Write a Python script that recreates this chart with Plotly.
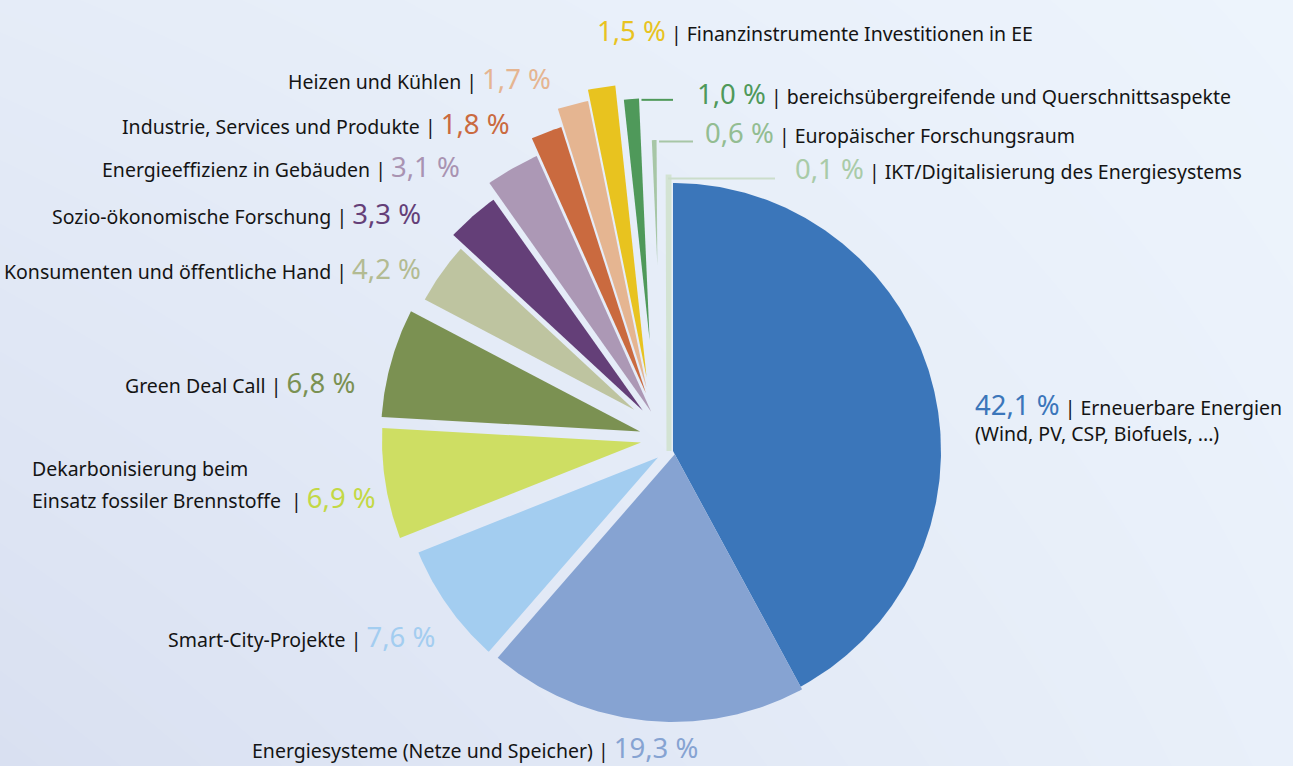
import numpy as np
import plotly.graph_objects as go

# Förderanteile je Themenbereich (in %)
categories = [
    "Erneuerbare Energien",
    "Energiesysteme (Netze und Speicher)",
    "Smart-City-Projekte",
    "Dekarbonisierung beim Einsatz fossiler Brennstoffe",
    "Green Deal Call",
    "Konsumenten und öffentliche Hand",
    "Sozio-ökonomische Forschung",
    "Energieeffizienz in Gebäuden",
    "Industrie, Services und Produkte",
    "Heizen und Kühlen",
    "Finanzinstrumente Investitionen in EE",
    "bereichsübergreifende und Querschnittsaspekte",
    "Europäischer Forschungsraum",
    "IKT/Digitalisierung des Energiesystems",
]
shares = [42.1, 19.3, 7.6, 6.9, 6.8, 4.2, 3.3, 3.1, 1.8, 1.7, 1.5, 1.0, 0.6, 0.1]
share_labels = ["42,1 %", "19,3 %", "7,6 %", "6,9 %", "6,8 %", "4,2 %", "3,3 %",
                "3,1 %", "1,8 %", "1,7 %", "1,5 %", "1,0 %", "0,6 %", "0,1 %"]

slice_colors = ["#3B76BA", "#86A3D2", "#A3CDF0", "#CEDE63", "#7B9152", "#BEC4A0",
                "#643F78", "#AC98B5", "#CA6A3F", "#E5B591", "#E8C31F", "#4F995A",
                "#A7C6A6", "#D3E3D3"]
label_colors = ["#3B76BA", "#86A3D2", "#A3CDF0", "#C3D845", "#7B9152", "#B3BB92",
                "#643F78", "#A993B2", "#CA6A3F", "#E5B591", "#E8C31F", "#4F995A",
                "#93BD92", "#A9CBA8"]

# Geometrie (Pixel): Mittelpunkt, Versatz der Segmentspitze, Radius, halbe Fugenbreite
W, H = 1293, 766
CX, CY = 673, 451
apex_dx = [0, 0, -3, -16, -17, -17, -8, -4, -5, -10, -15, -15, -11, -4]
apex_dy = [0, 0, -2, -11, -15, -26, -15, -8, 0, 0, 0, 0, 0, 0]
radius = [268, 271, 272, 275, 275, 263, 292, 316, 341, 358, 368, 353, 311, 274]
gap_start = [0, 0, 3.5, 3.5, 3.5, 3.5, 3.5, 3.5, 3.5, 3.5, 3.5, 3.5, 3.5, 0]
gap_end = [0, 3.5, 3.5, 3.5, 3.5, 3.5, 3.5, 3.5, 3.5, 3.5, 3.5, 3.5, 3.5, 0]

fig = go.Figure()

# Hintergrundverlauf
fig.add_trace(go.Heatmap(
    x=[0, W], y=[0, H], z=[[0.6, 1.0], [0.0, 0.8]],
    zmin=0, zmax=1, zsmooth="best", showscale=False, hoverinfo="skip",
    colorscale=[[0, "#D9E0F1"], [1, "#EDF4FC"]],
))

total = sum(shares)
starts = np.concatenate([[0], np.cumsum(shares)[:-1]]) / total * 360.0
spans = np.array(shares) / total * 360.0


def direction(a_deg):
    a = np.radians(a_deg)
    return np.array([np.sin(a), -np.cos(a)])


def wedge(ax, ay, r, a0, a1, h0, h1):
    """Segment mit Spitze (ax, ay), Radius r, Kanten um h0/h1 nach innen versetzt."""
    A = np.array([ax, ay])
    t0, t1 = np.radians(a0), np.radians(a1)
    n0 = np.array([np.cos(t0), np.sin(t0)])
    n1 = -np.array([np.cos(t1), np.sin(t1)])
    apex = A + np.linalg.solve(np.vstack([n0, n1]), [h0, h1])
    ends = []
    for a in (a0, a1):
        e = direction(a)
        v = apex - A
        b = v @ e
        c = v @ v - r * r
        t = -b + np.sqrt(b * b - c)
        p = apex + t * e
        ends.append(np.degrees(np.arctan2(p[0] - ax, -(p[1] - ay))) % 360)
    e0, e1 = ends
    if e1 < e0:
        e1 += 360
    n = max(3, int((e1 - e0) * 2))
    pts = [apex] + [A + r * direction(a) for a in np.linspace(e0, e1, n)] + [apex]
    pts = np.array(pts)
    return pts[:, 0], pts[:, 1]


corners = []
for i, cat in enumerate(categories):
    a0, a1 = starts[i], starts[i] + spans[i]
    ax, ay = CX + apex_dx[i], CY + apex_dy[i]
    xs, ys = wedge(ax, ay, radius[i], a0, a1, gap_start[i], gap_end[i])
    corners.append((ax + radius[i] * direction(a1)[0], ay + radius[i] * direction(a1)[1]))
    # das sehr schmale IKT-Segment erhält eine Kontur in eigener Farbe
    line = dict(width=5 if i == len(categories) - 1 else 0, color=slice_colors[i])
    fig.add_trace(go.Scatter(
        x=xs, y=ys, mode="lines", fill="toself", fillcolor=slice_colors[i],
        line=line, name=cat, hoverinfo="text",
        text=f"{cat}: {share_labels[i]}", showlegend=False,
    ))

# Führungslinien zu den kleinen Segmenten
leader_end = {11: 673, 12: 693, 13: 775}
leader_colors = {11: "#4F995A", 12: "#A7C6A6", 13: "#CBDDCB"}
for i, xe in leader_end.items():
    x0, y0 = corners[i]
    fig.add_trace(go.Scatter(
        x=[x0 - 1, xe], y=[y0 + 1.5, y0 + 1.5], mode="lines",
        line=dict(color=leader_colors[i], width=2),
        hoverinfo="skip", showlegend=False,
    ))

TXT = "#141414"
PCT = 27.5


def pct(i):
    return f'<span style="font-size:{PCT}px;color:{label_colors[i]}">{share_labels[i]}</span>'


annos = [
    # (text, x, y, xanchor)
    (f"Heizen und Kühlen | {pct(9)}", 553, 78, "right"),
    (f"Industrie, Services und Produkte | {pct(8)}", 512, 123, "right"),
    (f"Energieeffizienz in Gebäuden | {pct(7)}", 462, 166, "right"),
    (f"Sozio-ökonomische Forschung | {pct(6)}", 423, 213, "right"),
    (f"Konsumenten und öffentliche Hand | {pct(5)}", 423, 268, "right"),
    (f"Green Deal Call | {pct(4)}", 357, 382, "right"),
    ("Dekarbonisierung beim", 30, 468, "left"),
    (f"Einsatz fossiler Brennstoffe  | {pct(3)}", 30, 497, "left"),
    (f"Smart-City-Projekte | {pct(2)}", 437, 636, "right"),
    (f"Energiesysteme (Netze und Speicher) | {pct(1)}", 250, 747, "left"),
    (f"{pct(10)} | Finanzinstrumente Investitionen in EE", 595, 30, "left"),
    (f"{pct(11)} | bereichsübergreifende und Querschnittsaspekte", 695, 93, "left"),
    (f"{pct(12)} | Europäischer Forschungsraum", 703, 132, "left"),
    (f"{pct(13)} | IKT/Digitalisierung des Energiesystems", 793, 168, "left"),
    (f"{pct(0)} | Erneuerbare Energien", 973, 404, "left"),
    ("(Wind, PV, CSP, Biofuels, ...)", 973, 433, "left"),
]
for text, x, y, xa in annos:
    fig.add_annotation(x=x, y=y, xref="x", yref="y", text=text, showarrow=False,
                       xanchor=xa, yanchor="middle",
                       font=dict(family="Noto Sans", size=19.5, color=TXT))

fig.update_layout(
    width=W, height=H, margin=dict(l=0, r=0, t=0, b=0),
    paper_bgcolor="#E6EDF8", plot_bgcolor="rgba(0,0,0,0)",
    xaxis=dict(range=[0, W], visible=False, fixedrange=True),
    yaxis=dict(range=[H, 0], visible=False, fixedrange=True),
    showlegend=False,
)

fig.write_html("out.html")
